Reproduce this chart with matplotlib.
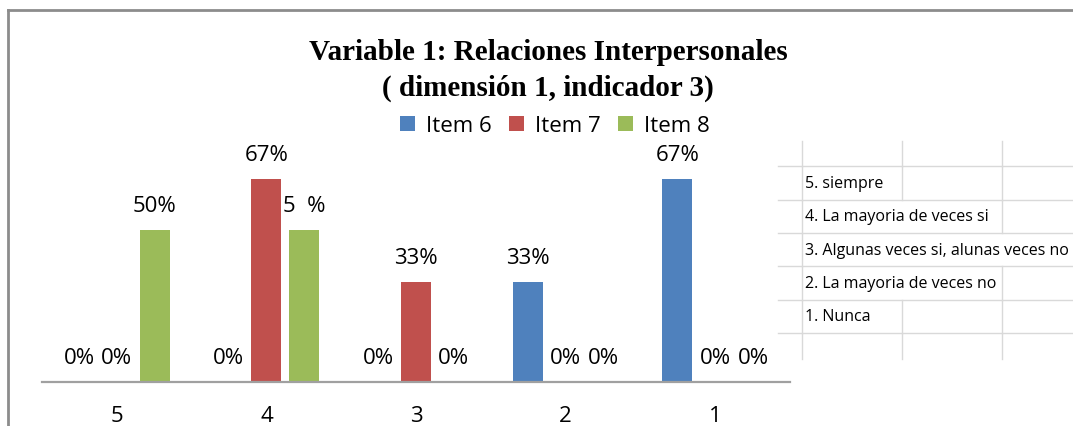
import matplotlib
matplotlib.use("Agg")
import matplotlib.pyplot as plt
from matplotlib.lines import Line2D
from matplotlib.patches import Patch
import numpy as np

# ---- data ----
categories = ["5", "4", "3", "2", "1"]
series_names = ["Item 6", "Item 7", "Item 8"]
item6 = [0.00, 0.00, 0.00, 0.33, 0.67]
item7 = [0.00, 0.67, 0.33, 0.00, 0.00]
item8 = [0.50, 0.50, 0.00, 0.00, 0.00]
item8_labels = ["50%", "5  %", "0%", "0%", "0%"]
title_lines = ["Variable 1: Relaciones Interpersonales", "( dimensión 1, indicador 3)"]
table_rows = ["5. siempre", "4. La mayoria de veces si",
              "3. Algunas veces si, alunas veces no",
              "2. La mayoria de veces no", "1. Nunca"]

colors = ["#4F81BD", "#C0504D", "#9BBB59"]
W, H = 1073, 427
fig = plt.figure(figsize=(W / 100, H / 100), dpi=100)
fig.patch.set_facecolor("white")

def fx(px):
    return px / W

def fy(py):
    return 1 - py / H

sans = ["Open Sans", "DejaVu Sans"]

# axes: x from 42 to 790 px, axis line at y=382.7, 303 px per 1.0
ax_left, ax_right = 42, 790
ax_bottom_px = 382.7
ymax = 0.8
ax_top_px = ax_bottom_px - 303 * ymax
ax = fig.add_axes([fx(ax_left), fy(ax_bottom_px), fx(ax_right - ax_left),
                   (ax_bottom_px - ax_top_px) / H])
ax.set_facecolor("none")

x = np.arange(len(categories))
bw = 0.2
off = 0.253
all_series = [item6, item7, item8]
label_sets = [[f"{v:.0%}" for v in item6], [f"{v:.0%}" for v in item7], item8_labels]
for i, (vals, col, labs) in enumerate(zip(all_series, colors, label_sets)):
    pos = x + (i - 1) * off
    ax.bar(pos, vals, width=bw, color=col, zorder=2)
    for p, v, lab in zip(pos, vals, labs):
        ax.annotate(lab, (p, v), xytext=(0, 17.5), textcoords="offset points",
                    ha="center", va="center", fontsize=16, family=sans, zorder=5)

ax.set_xlim(-0.5, len(categories) - 0.5)
ax.set_ylim(0, ymax)
ax.set_xticks(x)
ax.set_xticklabels(categories, fontsize=16, family=sans)
ax.tick_params(axis="x", length=0, pad=17)
ax.set_yticks([])
for s in ["top", "right", "left"]:
    ax.spines[s].set_visible(False)
ax.spines["bottom"].set_color("#a0a0a0")
ax.spines["bottom"].set_linewidth(1.6)

# title
fig.text(fx(548), fy(53), title_lines[0], ha="center", va="center",
         fontsize=21, fontweight="bold", family="Liberation Serif")
fig.text(fx(548), fy(88), title_lines[1], ha="center", va="center",
         fontsize=21, fontweight="bold", family="Liberation Serif")

# legend
handles = [Patch(facecolor=c, edgecolor="none") for c in colors]
fig.legend(handles, series_names, loc="center", bbox_to_anchor=(fx(555), fy(127)),
           ncol=3, frameon=False, prop={"family": sans, "size": 16},
           handlelength=0.65, handleheight=0.65, handletextpad=0.5,
           columnspacing=0.8, borderpad=0, borderaxespad=0)

# outer frame (top and left)
frame_col = "#8c8c8c"
fig.add_artist(Line2D([fx(8), fx(W)], [fy(11), fy(11)], color=frame_col, lw=2))
fig.add_artist(Line2D([fx(8), fx(8)], [fy(11), fy(H)], color=frame_col, lw=2))

# spreadsheet cells on the right
grid_col = "#d9d9d9"
hlines = [167.3, 200.7, 234.0, 267.3, 300.7, 334.0]
vlines = [802, 902, 1002]
texts = []
for k, row in enumerate(table_rows):
    yc = (hlines[k] + hlines[k + 1]) / 2
    t = fig.text(fx(805), fy(yc), row, ha="left", va="center", fontsize=11.5,
                 family=sans, color="#000000")
    texts.append(t)

fig.canvas.draw()
renderer = fig.canvas.get_renderer()
extents = [t.get_window_extent(renderer) for t in texts]

for hy in hlines:
    fig.add_artist(Line2D([fx(778), fx(W)], [fy(hy), fy(hy)], color=grid_col, lw=1))
segments = [(141.7, hlines[0])] + [(hlines[k], hlines[k + 1]) for k in range(5)] + [(hlines[-1], 360)]
for si, (y0, y1) in enumerate(segments):
    for vx in vlines:
        if 1 <= si <= 5:
            e = extents[si - 1]
            if e.x0 < vx < e.x1:
                continue
        fig.add_artist(Line2D([fx(vx), fx(vx)], [fy(y0), fy(y1)], color=grid_col, lw=1))

fig.savefig("out.png", dpi=100, facecolor="white")
